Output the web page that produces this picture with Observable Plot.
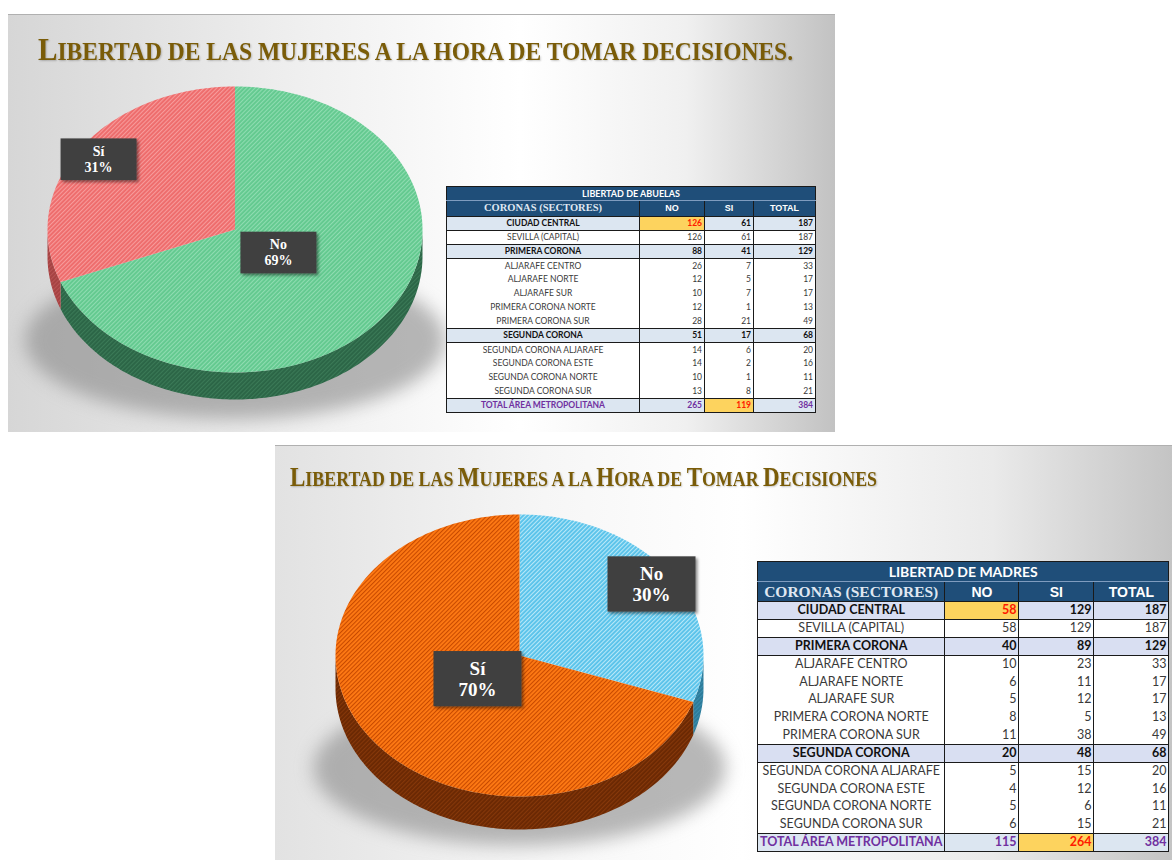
<!DOCTYPE html>
<html><head><meta charset="utf-8">
<script src="https://cdn.jsdelivr.net/npm/d3@7"></script>
<script src="https://cdn.jsdelivr.net/npm/@observablehq/plot@0.6"></script>
<style>
html,body{margin:0;padding:0;}
body{width:1172px;height:860px;background:#fff;position:relative;overflow:hidden;font-family:Lato,"Open Sans",sans-serif;}
.slide{position:absolute;overflow:hidden;border-top:1px solid #b0b0b0;box-sizing:border-box;}
#s1{left:8px;top:14px;width:827px;height:418px;background:linear-gradient(90deg,#d6d6d6 0%,#efefef 35%,#ffffff 62%,#f0f0f0 82%,#c2c2c2 100%);}
#s2{left:275px;top:445px;width:897px;height:415px;background:linear-gradient(90deg,#e2e2e2 0%,#f6f6f6 30%,#ffffff 52%,#eaeaea 80%,#c4c4c4 100%);}
.title{position:absolute;white-space:nowrap;font-family:"Liberation Serif","Times New Roman",serif;font-weight:bold;color:#7a5c08;transform-origin:0 0;line-height:1;text-shadow:1px 1px 2px rgba(0,0,0,0.22);}
.pie{position:absolute;left:0;top:0;overflow:visible;}
table.t{position:absolute;border-collapse:collapse;table-layout:fixed;font-family:Lato,"Open Sans",sans-serif;color:#3a3a3a;border:1.5px solid #1a1a1a;background:#fff;}
table.t td{padding:0 2px;line-height:1;white-space:nowrap;overflow:hidden;border-left:1.5px solid #1a1a1a;border-right:1.5px solid #1a1a1a;}
table.t td.num{text-align:right;}
table.t td.name{text-align:center;}
table.t tr.cap td{background:#1f4e79;color:#fff;font-weight:bold;text-align:center;border-bottom:1px solid #7f9cbf;}
table.t tr.head td{background:#1f4e79;color:#fff;font-weight:bold;text-align:center;font-family:"Liberation Sans",Arial,sans-serif;}
table.t tr.head td.first{font-family:"Liberation Serif","Times New Roman",serif;color:#dfe7f1;}
table.t tr.sec td{font-weight:bold;color:#111;border-top:1.5px solid #1a1a1a;border-bottom:1.5px solid #1a1a1a;}
table.t tr.tot td{font-weight:bold;color:#7030a0;border-top:1.5px solid #1a1a1a;background:#dce6f1;}
table.t td.hl{background:#fdd35e !important;color:#ff1a00 !important;font-weight:bold;}
</style>
</head><body>
<div class="slide" id="s1"></div>
<div class="slide" id="s2"></div>
<script>
// ---------- DATA ----------
const abuelasCategorias = ["No", "Sí"];
const abuelasValores = [265, 119];
const madresCategorias = ["No", "Sí"];
const madresValores = [115, 264];

const titulo1 = "Libertad de las mujeres a la hora de tomar decisiones.";
const titulo2 = "Libertad de las Mujeres a la Hora de Tomar Decisiones";

const tablaTitulo1 = "LIBERTAD DE ABUELAS";
const tablaTitulo2 = "LIBERTAD DE MADRES";
const columnas = ["CORONAS (SECTORES)", "NO", "SI", "TOTAL"];
const sectores = ["CIUDAD CENTRAL", "SEVILLA (CAPITAL)", "PRIMERA CORONA", "ALJARAFE CENTRO", "ALJARAFE NORTE", "ALJARAFE SUR", "PRIMERA CORONA NORTE", "PRIMERA CORONA SUR", "SEGUNDA CORONA", "SEGUNDA CORONA ALJARAFE", "SEGUNDA CORONA ESTE", "SEGUNDA CORONA NORTE", "SEGUNDA CORONA SUR", "TOTAL ÁREA METROPOLITANA"];
const tipoFila = ["sec", "", "sec", "", "", "", "", "", "sec", "", "", "", "", "tot"];
const abuelasNo = [126, 126, 88, 26, 12, 10, 12, 28, 51, 14, 14, 10, 13, 265];
const abuelasSi = [61, 61, 41, 7, 5, 7, 1, 21, 17, 6, 2, 1, 8, 119];
const abuelasTotal = [187, 187, 129, 33, 17, 17, 13, 49, 68, 20, 16, 11, 21, 384];
const madresNo = [58, 58, 40, 10, 6, 5, 8, 11, 20, 5, 4, 5, 6, 115];
const madresSi = [129, 129, 89, 23, 11, 12, 5, 38, 48, 15, 12, 6, 15, 264];
const madresTotal = [187, 187, 129, 33, 17, 17, 13, 49, 68, 20, 16, 11, 21, 384];

// ---------- TITLES ----------
function smallCapsTitle(parent, text, big, small, left, top, targetWidth) {
  const div = document.createElement("div");
  div.className = "title";
  div.style.left = left + "px";
  div.style.top = top + "px";
  for (const ch of text) {
    const span = document.createElement("span");
    const isUpper = ch !== ch.toLowerCase();
    span.textContent = ch.toUpperCase();
    span.style.fontSize = (isUpper ? big : small) + "px";
    div.appendChild(span);
  }
  parent.appendChild(div);
  const w = div.getBoundingClientRect().width;
  div.style.transform = `scaleX(${targetWidth / w})`;
}

// ---------- PIE ----------
function drawPie(parent, id, categories, values, g, styles) {
  const ns = "http://www.w3.org/2000/svg";
  const pie = d3.pie().sort(null).value(v => v)(values);
  const total = d3.sum(values);
  const d = g.depth / g.ry;
  const stepRad = Math.PI / 180;
  const arcPts = (a0, a1, dy = 0) => {
    const n = Math.max(2, Math.ceil((a1 - a0) / stepRad));
    return d3.range(n + 1).map(i => {
      const a = a0 + (a1 - a0) * i / n;
      return {x: Math.sin(a), y: Math.cos(a) - dy};
    });
  };
  const marks = [];
  const shadow = d3.range(0, 361, 3).map(deg => {
    const a = deg * Math.PI / 180;
    return {x: 1.12 * Math.sin(a), y: 0.55 * Math.cos(a) - 0.68 - d * 0.5};
  });
  marks.push(Plot.line(shadow, {x: "x", y: "y", fill: "#888888", fillOpacity: 0.6, stroke: "none", curve: "linear-closed"}));
  pie.forEach((s, i) => {
    const a0 = Math.max(s.startAngle, Math.PI / 2), a1 = Math.min(s.endAngle, 3 * Math.PI / 2);
    if (a1 > a0) {
      const pts = [...arcPts(a0, a1), ...arcPts(a0, a1, d).reverse()];
      marks.push(Plot.line(pts, {x: "x", y: "y", fill: `url(#${id}-side-${i})`, stroke: "none"}));
    }
  });
  pie.forEach((s, i) => {
    const pts = [{x: 0, y: 0}, ...arcPts(s.startAngle, s.endAngle)];
    marks.push(Plot.line(pts, {x: "x", y: "y", fill: `url(#${id}-top-${i})`, stroke: "none"}));
  });
  const labels = pie.map((s, i) => {
    const m = (s.startAngle + s.endAngle) / 2;
    const frac = s.value / total;
    const r = frac < 0.5 ? 0.88 : 0.28;
    return {x: r * Math.sin(m), y: r * Math.cos(m), text: `${categories[i]}\n${Math.round(frac * 100)}%`};
  });
  marks.push(Plot.text(labels, {x: "x", y: "y", text: "text", fill: "white", fontSize: g.font, fontWeight: "bold", fontFamily: "Liberation Serif, Times New Roman, serif", lineHeight: 1.12}));

  const svg = Plot.plot({
    width: g.width, height: g.height,
    marginLeft: g.ml, marginRight: g.mr, marginTop: g.mt, marginBottom: g.mb,
    x: {domain: [-1, 1], axis: null},
    y: {domain: [-1 - d, 1], axis: null},
    style: {background: "transparent", overflow: "visible"},
    marks
  });
  svg.classList.add("pie");
  parent.appendChild(svg);
  const defs = document.createElementNS(ns, "defs");
  svg.insertBefore(defs, svg.firstChild);
  let html = "";
  styles.forEach((st, i) => {
    html += `<pattern id="${id}-top-${i}" patternUnits="userSpaceOnUse" width="3" height="3" patternTransform="rotate(45)"><rect width="3" height="3" fill="${st.top}"/><rect width="1.1" height="3" fill="${st.topLine}"/></pattern>`;
    html += `<pattern id="${id}-side-${i}" patternUnits="userSpaceOnUse" width="3" height="3" patternTransform="rotate(45)"><rect width="3" height="3" fill="${st.side}"/><rect width="1.1" height="3" fill="${st.sideLine}"/></pattern>`;
  });
  html += `<filter id="${id}-ds" x="-30%" y="-30%" width="160%" height="160%"><feDropShadow dx="2" dy="2" stdDeviation="1.5" flood-color="#000" flood-opacity="0.45"/></filter>`;
  defs.innerHTML = html;
  const lineGroups = svg.querySelectorAll('g[aria-label="line"]');
  if (lineGroups.length) lineGroups[0].style.filter = "blur(9px)";
  svg.querySelectorAll('g[aria-label="text"] text').forEach(t => {
    const b = t.getBBox();
    const rect = document.createElementNS(ns, "rect");
    const px = g.padX, py = g.padY;
    rect.setAttribute("x", b.x - px);
    rect.setAttribute("y", b.y - py);
    rect.setAttribute("width", b.width + 2 * px);
    rect.setAttribute("height", b.height + 2 * py);
    rect.setAttribute("fill", "#404040");
    rect.setAttribute("filter", `url(#${id}-ds)`);
    if (t.getAttribute("transform")) rect.setAttribute("transform", t.getAttribute("transform"));
    t.parentNode.insertBefore(rect, t);
  });
}

// ---------- TABLE ----------
function drawTable(parent, caption, noV, siV, totV, hl, pos) {
  const t = document.createElement("table");
  t.className = "t";
  t.style.left = pos.left + "px";
  t.style.top = pos.top + "px";
  t.style.fontSize = pos.font + "px";
  const cg = document.createElement("colgroup");
  pos.cols.forEach(w => { const c = document.createElement("col"); c.style.width = w + "px"; cg.appendChild(c); });
  t.appendChild(cg);
  const tb = document.createElement("tbody");
  let tr = document.createElement("tr"); tr.className = "cap"; tr.style.height = pos.capH + "px";
  let td = document.createElement("td"); td.colSpan = 4; td.textContent = caption; td.style.fontSize = pos.capFont + "px"; tr.appendChild(td); tb.appendChild(tr);
  tr = document.createElement("tr"); tr.className = "head"; tr.style.height = pos.headH + "px";
  columnas.forEach((c, j) => { const cell = document.createElement("td"); cell.textContent = c; if (j === 0) { cell.className = "first"; cell.style.fontSize = pos.headFont0 + "px"; } else cell.style.fontSize = pos.headFont + "px"; tr.appendChild(cell); });
  tb.appendChild(tr);
  sectores.forEach((s, i) => {
    const r = document.createElement("tr");
    r.className = tipoFila[i];
    r.style.height = pos.rowH + "px";
    if (tipoFila[i] === "sec") r.style.background = pos.secBg;
    [s, noV[i], siV[i], totV[i]].forEach((v, j) => {
      const c = document.createElement("td");
      c.textContent = v;
      c.className = j === 0 ? "name" : "num";
      if (hl.some(h => h[0] === i && h[1] === j)) c.classList.add("hl");
      r.appendChild(c);
    });
    tb.appendChild(r);
  });
  t.appendChild(tb);
  parent.appendChild(t);
}

const s1 = document.getElementById("s1");
const s2 = document.getElementById("s2");

drawPie(s1, "p1", abuelasCategorias, abuelasValores,
  {width: 440, height: 418, ml: 39, mr: 26, mt: 71, mb: 34, ry: 143, depth: 27, font: 14, padX: 24, padY: 5.5},
  [{top: "#62c98f", topLine: "#8fdcb1", side: "#2b6546", sideLine: "#3b7a57"},
   {top: "#ee6b6b", topLine: "#f79b9b", side: "#a54242", sideLine: "#b85454"}]);

drawPie(s2, "p2", madresCategorias, madresValores,
  {width: 470, height: 415, ml: 60, mr: 42, mt: 68, mb: 32, ry: 141, depth: 33, font: 19, padX: 25, padY: 6.5},
  [{top: "#58c2ea", topLine: "#b8e8f8", side: "#2c7a99", sideLine: "#3a8eae"},
   {top: "#ff7a14", topLine: "#c84a00", side: "#6a2803", sideLine: "#86380a"}]);

drawTable(s1, tablaTitulo1, abuelasNo, abuelasSi, abuelasTotal, [[0, 1], [13, 2]],
  {left: 438, top: 171, cols: [193, 65, 49, 62], capH: 14, headH: 16, rowH: 14, font: 8.5, capFont: 9, headFont: 9, headFont0: 10.5, secBg: "#dce6f1"});
drawTable(s2, tablaTitulo2, madresNo, madresSi, madresTotal, [[0, 1], [13, 2]],
  {left: 482, top: 115, cols: [186, 74, 75, 75], capH: 20, headH: 20, rowH: 17.85, font: 12.5, capFont: 14, headFont: 14, headFont0: 15.5, secBg: "#d9dff2"});

smallCapsTitle(s1, titulo1, 31, 25, 30, 19, 755);
smallCapsTitle(s2, titulo2, 27, 21, 15, 18, 587);
</script>
</body></html>
